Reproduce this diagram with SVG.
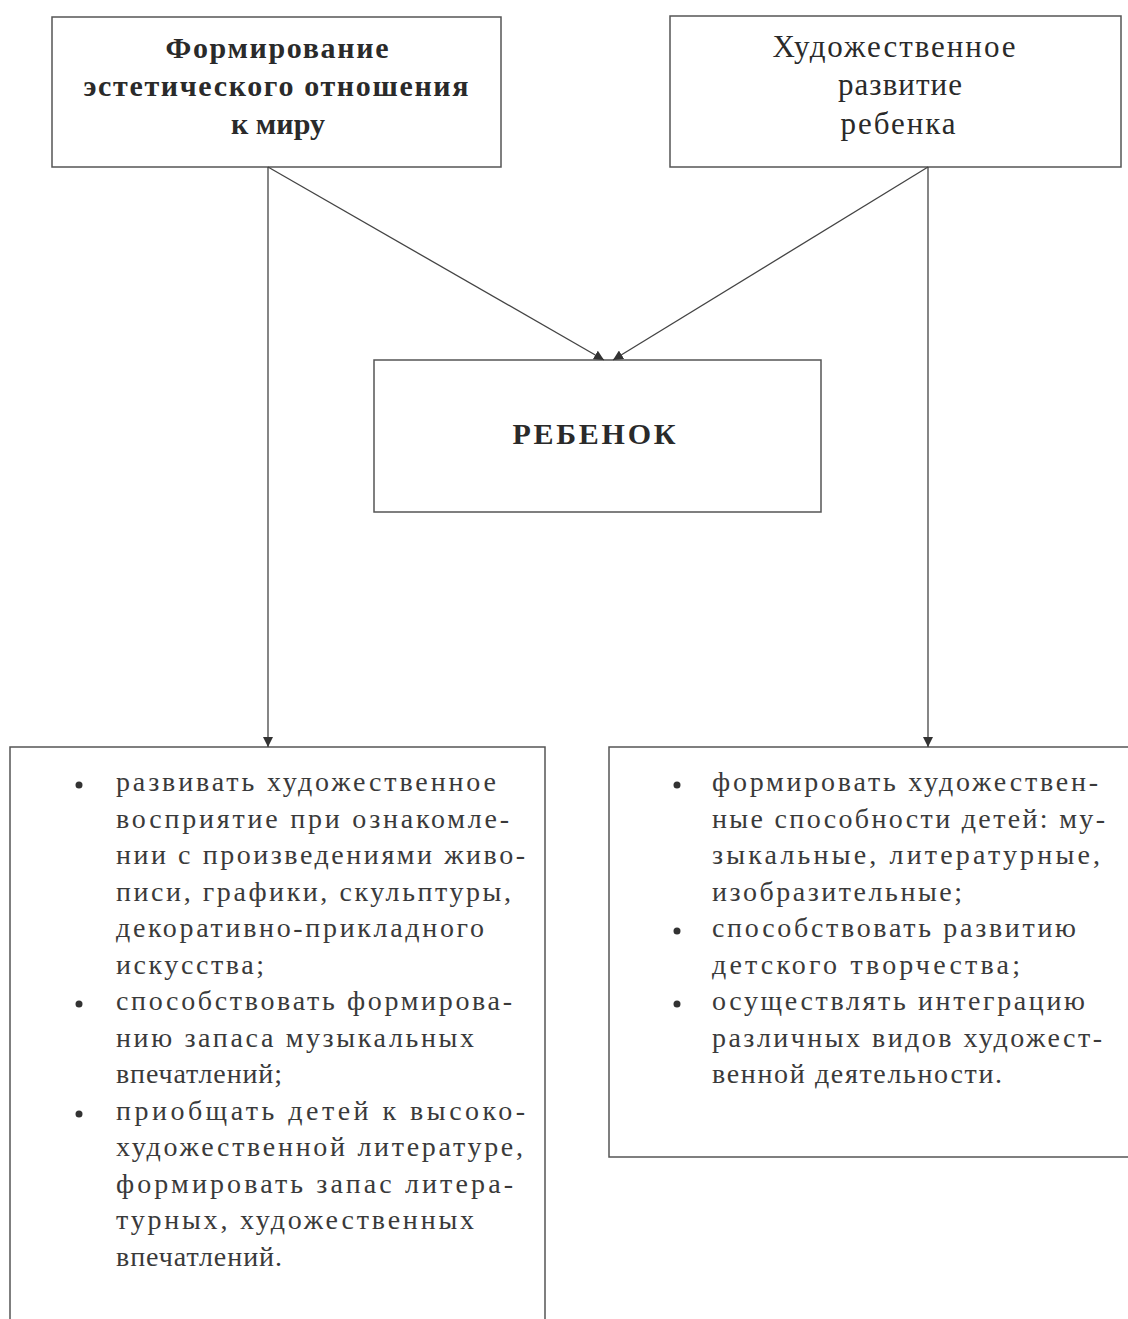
<svg xmlns="http://www.w3.org/2000/svg" width="1128" height="1319" viewBox="0 0 1128 1319">
<defs>
<marker id="arr" viewBox="0 0 10 10" refX="10" refY="5" markerWidth="10" markerHeight="10" markerUnits="userSpaceOnUse" orient="auto">
<path d="M0,0 L10,5 L0,10 z" fill="#333"/>
</marker>
<style>
.box{fill:#fff;stroke:#555;stroke-width:1.5}
.con{stroke:#444;stroke-width:1.3;fill:none}
.hb{font-family:"Liberation Serif","Times New Roman",serif;font-weight:bold;font-size:30px;fill:#2a2a2a;text-anchor:middle}
.hr{font-family:"Liberation Serif","Times New Roman",serif;font-size:31px;fill:#2a2a2a;text-anchor:middle}
.t{font-family:"Liberation Serif","Times New Roman",serif;font-size:28px;fill:#3a3a3a}
.b{fill:#333}
</style>
</defs>
<rect width="1128" height="1319" fill="#fff"/>
<g id="node-aesthetic">
<rect class="box" x="52" y="17" width="449" height="150"/>
<text class="hb" x="277" y="58" textLength="223" lengthAdjust="spacing">Формирование</text>
<text class="hb" x="276" y="96" textLength="385" lengthAdjust="spacing">эстетического отношения</text>
<text class="hb" x="278" y="134" textLength="94" lengthAdjust="spacing">к миру</text>
</g>
<g id="node-art">
<rect class="box" x="670" y="16" width="451" height="151"/>
<text class="hr" x="894" y="57" textLength="243" lengthAdjust="spacing">Художественное</text>
<text class="hr" x="900" y="95" textLength="124" lengthAdjust="spacing">развитие</text>
<text class="hr" x="898" y="134" textLength="115" lengthAdjust="spacing">ребенка</text>
</g>
<g id="node-child">
<rect class="box" x="374" y="360" width="447" height="152"/>
<text class="hb" x="594" y="444" textLength="163" lengthAdjust="spacing">РЕБЕНОК</text>
</g>
<g id="node-left-tasks">
<rect class="box" x="10" y="747" width="535" height="590"/>
<circle class="b" cx="79" cy="785" r="3.5"/>
<circle class="b" cx="79" cy="1004" r="3.5"/>
<circle class="b" cx="79" cy="1114" r="3.5"/>
<text class="t" x="116" y="791" textLength="380" lengthAdjust="spacing">развивать художественное</text>
<text class="t" x="116" y="828" textLength="393" lengthAdjust="spacing">восприятие при ознакомле-</text>
<text class="t" x="116" y="864" textLength="409" lengthAdjust="spacing">нии с произведениями живо-</text>
<text class="t" x="116" y="901" textLength="395" lengthAdjust="spacing">писи, графики, скульптуры,</text>
<text class="t" x="116" y="937" textLength="368" lengthAdjust="spacing">декоративно-прикладного</text>
<text class="t" x="116" y="974" textLength="148" lengthAdjust="spacing">искусства;</text>
<text class="t" x="116" y="1010" textLength="396" lengthAdjust="spacing">способствовать формирова-</text>
<text class="t" x="116" y="1047" textLength="358" lengthAdjust="spacing">нию запаса музыкальных</text>
<text class="t" x="116" y="1083" textLength="166" lengthAdjust="spacing">впечатлений;</text>
<text class="t" x="116" y="1120" textLength="409" lengthAdjust="spacing">приобщать детей к высоко-</text>
<text class="t" x="116" y="1156" textLength="407" lengthAdjust="spacing">художественной литературе,</text>
<text class="t" x="116" y="1193" textLength="397" lengthAdjust="spacing">формировать запас литера-</text>
<text class="t" x="116" y="1229" textLength="358" lengthAdjust="spacing">турных, художественных</text>
<text class="t" x="116" y="1266" textLength="166" lengthAdjust="spacing">впечатлений.</text>
</g>
<g id="node-right-tasks">
<rect class="box" x="609" y="747" width="540" height="410"/>
<circle class="b" cx="677" cy="785" r="3.5"/>
<circle class="b" cx="677" cy="931" r="3.5"/>
<circle class="b" cx="677" cy="1004" r="3.5"/>
<text class="t" x="712" y="791" textLength="386" lengthAdjust="spacing">формировать художествен-</text>
<text class="t" x="712" y="828" textLength="393" lengthAdjust="spacing">ные способности детей: му-</text>
<text class="t" x="712" y="864" textLength="388" lengthAdjust="spacing">зыкальные, литературные,</text>
<text class="t" x="712" y="901" textLength="250" lengthAdjust="spacing">изобразительные;</text>
<text class="t" x="712" y="937" textLength="364" lengthAdjust="spacing">способствовать развитию</text>
<text class="t" x="712" y="974" textLength="308" lengthAdjust="spacing">детского творчества;</text>
<text class="t" x="712" y="1010" textLength="373" lengthAdjust="spacing">осуществлять интеграцию</text>
<text class="t" x="712" y="1047" textLength="390" lengthAdjust="spacing">различных видов художест-</text>
<text class="t" x="712" y="1083" textLength="290" lengthAdjust="spacing">венной деятельности.</text>
</g>
<g id="connectors">
<line class="con" x1="268" y1="167" x2="268" y2="747" marker-end="url(#arr)"/>
<line class="con" x1="928" y1="167" x2="928" y2="747" marker-end="url(#arr)"/>
<line class="con" x1="268" y1="167" x2="604" y2="360" marker-end="url(#arr)"/>
<line class="con" x1="928" y1="167" x2="613" y2="360" marker-end="url(#arr)"/>
</g>
</svg>
